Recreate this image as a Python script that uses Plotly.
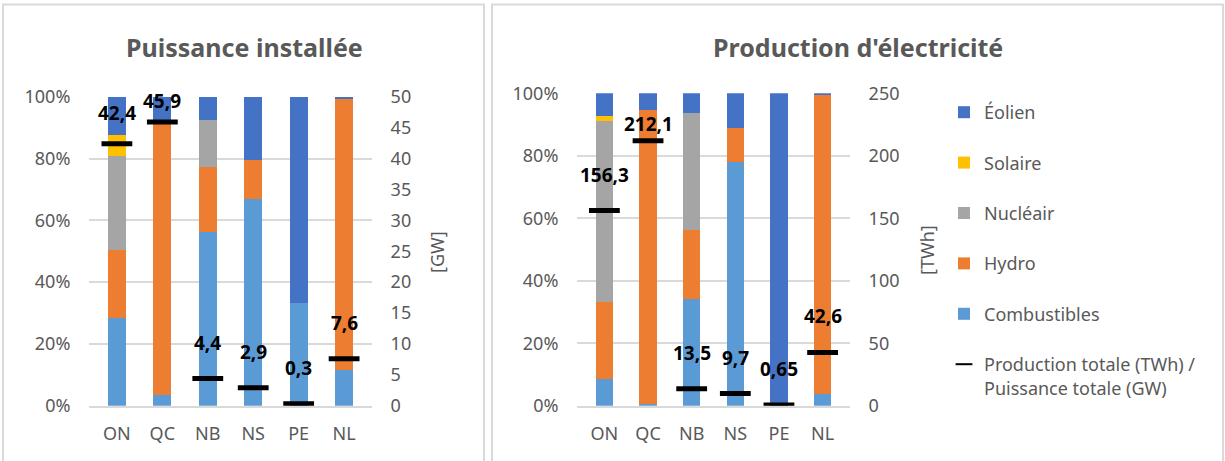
import plotly.graph_objects as go

# ---------------- data ----------------
categories = ["ON", "QC", "NB", "NS", "PE", "NL"]

# Puissance installée : parts (%) par source
cap_combustibles = [28.3, 3.3, 56.3, 67.0, 33.2, 11.7]
cap_hydro        = [22.1, 88.7, 20.9, 12.6, 0.0, 87.7]
cap_nucleaire    = [30.4, 0.0, 15.2, 0.0, 0.0, 0.0]
cap_solaire      = [6.7, 0.0, 0.0, 0.0, 0.0, 0.0]
cap_eolien       = [12.5, 8.0, 7.6, 20.4, 66.8, 0.6]
cap_total_gw     = [42.4, 45.9, 4.4, 2.9, 0.3, 7.6]

# Production d'électricité : parts (%) par source
prod_combustibles = [8.5, 0.7, 34.2, 78.1, 0.0, 3.8]
prod_hydro        = [24.6, 94.0, 22.2, 10.7, 0.0, 95.7]
prod_nucleaire    = [57.9, 0.0, 37.2, 0.0, 0.0, 0.0]
prod_solaire      = [1.7, 0.0, 0.0, 0.0, 0.0, 0.0]
prod_eolien       = [7.3, 5.3, 6.4, 11.2, 100.0, 0.5]
prod_total_twh    = [156.3, 212.1, 13.5, 9.7, 0.65, 42.6]

source_names = ["Combustibles", "Hydro", "Nucléair", "Solaire", "Éolien"]
total_name = "Production totale (TWh) /<br>Puissance totale (GW)"

# ---------------- style ----------------
colors = {"Combustibles": "#5B9BD5", "Hydro": "#ED7D31", "Nucléair": "#A5A5A5",
          "Solaire": "#FFC000", "Éolien": "#4472C4"}
legend_rank = {"Éolien": 1, "Solaire": 2, "Nucléair": 3, "Hydro": 4, "Combustibles": 5}
label_shift_cap = [31, 21, 36, 36, 36, 36]
label_shift_prod = [35, 17, 36, 36, 36, 36]
FONT = "Noto Sans"
GREY = "#595959"
GRID = "#D9D9D9"
W, H = 1225, 461

def px_x(v):
    return v / W

def px_y(v):
    return 1 - v / H

cap_series = [cap_combustibles, cap_hydro, cap_nucleaire, cap_solaire, cap_eolien]
prod_series = [prod_combustibles, prod_hydro, prod_nucleaire, prod_solaire, prod_eolien]

fig = go.Figure()

for name, vals in zip(source_names, cap_series):
    fig.add_trace(go.Bar(x=categories, y=vals, name=name, marker_color=colors[name],
                         marker_line_width=0, xaxis="x", yaxis="y", showlegend=False,
                         legendgroup=name))
fig.add_trace(go.Scatter(x=categories, y=cap_total_gw, mode="markers", name=total_name,
                         marker=dict(symbol="line-ew", size=22, line=dict(width=5, color="black")),
                         xaxis="x", yaxis="y2", showlegend=False, legendgroup="total"))

for name, vals in zip(source_names, prod_series):
    fig.add_trace(go.Bar(x=categories, y=vals, name=name, marker_color=colors[name],
                         marker_line_width=0, xaxis="x2", yaxis="y3", showlegend=True,
                         legendgroup=name, legendrank=legend_rank[name]))
fig.add_trace(go.Scatter(x=categories, y=prod_total_twh, mode="markers", name=total_name,
                         marker=dict(symbol="line-ew", size=22, line=dict(width=5, color="black")),
                         xaxis="x2", yaxis="y4", showlegend=True, legendgroup="total",
                         legendrank=6))

def fmt(v):
    return f"{v:g}".replace(".", ",")

annotations = []
for c, v, s in zip(categories, cap_total_gw, label_shift_cap):
    annotations.append(dict(x=c, y=v, xref="x", yref="y2", text=fmt(v), showarrow=False,
                            yshift=s, xanchor="center", yanchor="middle",
                            font=dict(family=FONT, size=19, color="black", weight="bold")))
for c, v, s in zip(categories, prod_total_twh, label_shift_prod):
    annotations.append(dict(x=c, y=v, xref="x2", yref="y4", text=fmt(v), showarrow=False,
                            yshift=s, xanchor="center", yanchor="middle",
                            font=dict(family=FONT, size=19, color="black", weight="bold")))

def paper_text(x, y, text, size, angle=0):
    return dict(x=px_x(x), y=px_y(y), xref="paper", yref="paper", text=text,
                showarrow=False, textangle=angle, xanchor="center", yanchor="middle",
                font=dict(family=FONT, size=size, color=GREY))

annotations.append(paper_text(244, 47, "<b>Puissance installée</b>", 25))
annotations.append(paper_text(858, 47, "<b>Production d'électricité</b>", 25))
annotations.append(paper_text(437, 252, "[GW]", 18, -90))
annotations.append(paper_text(927, 250, "[TWh]", 18, -90))

tickfont = dict(family=FONT, size=18, color=GREY)
ygrid = dict(range=[0, 100], dtick=20, ticksuffix="%", showgrid=True, gridcolor=GRID,
             gridwidth=1.5, zeroline=False, showline=False, ticks="outside", ticklen=14,
             tickcolor="rgba(0,0,0,0)", tickfont=tickfont, fixedrange=True, automargin=False)
xcommon = dict(showgrid=False, showline=True, linecolor=GRID, linewidth=1.5,
               ticks="outside", ticklen=11, tickcolor="rgba(0,0,0,0)", tickfont=tickfont,
               automargin=False)
ysec = dict(showgrid=False, zeroline=False, ticks="outside", ticklen=14,
            tickcolor="rgba(0,0,0,0)", tickfont=tickfont, automargin=False)

fig.update_layout(
    width=W, height=H, margin=dict(l=0, r=0, t=0, b=0, pad=0, autoexpand=False),
    paper_bgcolor="white", plot_bgcolor="white",
    barmode="stack", bargap=0.6,
    font=dict(family=FONT, color=GREY),
    xaxis=dict(domain=[px_x(89), px_x(372)], anchor="y", **xcommon),
    yaxis=dict(domain=[px_y(405.7), px_y(96.7)], anchor="x", **ygrid),
    yaxis2=dict(range=[0, 50], dtick=5, overlaying="y", side="right", anchor="x", **ysec),
    xaxis2=dict(domain=[px_x(577), px_x(850)], anchor="y3", **xcommon),
    yaxis3=dict(domain=[px_y(405.7), px_y(93.3)], anchor="x2", **ygrid),
    yaxis4=dict(range=[0, 250], dtick=50, overlaying="y3", side="right", anchor="x2", **ysec),
    legend=dict(x=px_x(944), y=px_y(94), xanchor="left", yanchor="top",
                traceorder="grouped", tracegroupgap=24, valign="top",
                itemsizing="constant",
                font=dict(family=FONT, size=18, color=GREY), bgcolor="rgba(0,0,0,0)"),
    annotations=annotations,
    shapes=[
        dict(type="rect", xref="paper", yref="paper", x0=px_x(3), x1=px_x(484),
             y0=-0.2, y1=px_y(4.5), line=dict(color=GRID, width=2)),
        dict(type="rect", xref="paper", yref="paper", x0=px_x(492), x1=px_x(1223),
             y0=-0.2, y1=px_y(4.5), line=dict(color=GRID, width=2)),
    ],
)

fig.write_html("out.html", config={"displayModeBar": False},
               post_script="document.body.style.margin='0';document.body.style.overflow='hidden';")
